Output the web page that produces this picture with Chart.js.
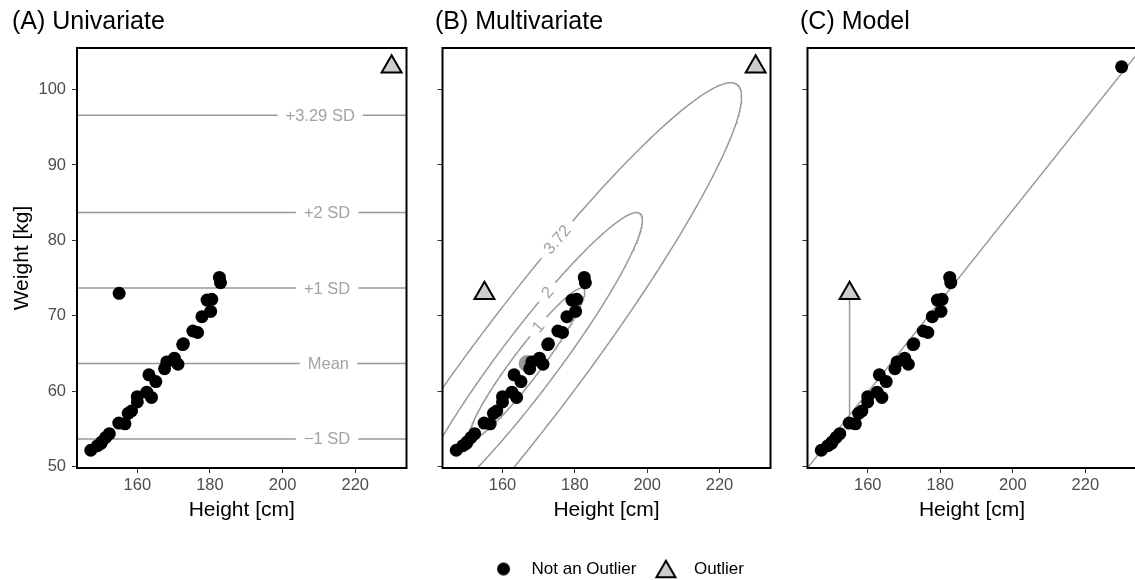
<!DOCTYPE html>
<html>
<head>
<meta charset="utf-8">
<script src="https://cdn.jsdelivr.net/npm/chart.js@4.4.1/dist/chart.umd.min.js"></script>
<style>
  html, body { margin: 0; padding: 0; background: #ffffff; overflow: hidden; }
  #wrap { position: relative; width: 1135px; height: 580px; overflow: hidden; background: #fff; }
  .panel { position: absolute; }
  canvas { display: block; }
</style>
</head>
<body>
<div id="wrap">
  <div class="panel" style="left:0px;top:0px;"><canvas id="cA" width="420" height="530"></canvas></div>
  <div class="panel" style="left:429px;top:0px;"><canvas id="cB" width="355" height="530"></canvas></div>
  <div class="panel" style="left:794px;top:0px;"><canvas id="cC" width="356" height="530"></canvas></div>
  <div class="panel" style="left:314px;top:540px;"><canvas id="cL" width="600" height="80"></canvas></div>
</div>
<script>
// ---------------- data ----------------
const heightCm = [147.2, 149.0, 150.0, 150.2, 151.3, 152.3, 154.9, 156.6, 157.5, 158.4,
                  160.0, 160.0, 162.6, 163.9, 163.2, 165.1, 167.5, 168.1, 170.2, 171.2,
                  172.7, 172.5, 175.3, 176.6, 177.8, 179.2, 180.5, 180.2, 182.6, 182.9];
const weightKg = [52.2, 52.8, 53.1, 53.3, 53.9, 54.4, 55.8, 55.7, 57.1, 57.4,
                  59.3, 58.6, 59.9, 59.2, 62.2, 61.3, 63.0, 63.9, 64.4, 63.6,
                  66.3, 66.2, 68.0, 67.8, 69.9, 72.1, 72.2, 70.6, 75.1, 74.4];
const outlierHeightCm = [155.0, 230.0];
const outlierWeightKg = [73.0, 103.0];
const univariateOutlierFlag = [false, true];   // panel A
const multivariateOutlierFlag = [true, true];  // panel B
const modelOutlierFlag = [true, false];        // panel C

const xTicks = [160, 180, 200, 220];
const yTicks = [50, 60, 70, 80, 90, 100];
const xLimits = [143.4, 234.1];
const yLimits = [49.85, 105.5];

const weightMean = 63.7;
const weightSD = 10.0;
const sdSteps = [-1, 0, 1, 2, 3.29];
const sdLabels = ['\u22121 SD', 'Mean', '+1 SD', '+2 SD', '+3.29 SD'];
const sdLabelFrac = [0.759, 0.763, 0.759, 0.759, 0.738];

// multivariate centre and covariance (height, weight)
const contourCentre = [166.8, 63.7];
const contourCovHH = 254.0;
const contourCovHW = 151.4;
const contourCovWW = 100.0;
const contourLevels = [1, 2, 3.72];
const contourLabels = ['1', '2', '3.72'];
const contourLabelAt = [[169.6, 68.7], [172.1, 73.1], [175.7, 80.0]];

const fitIntercept = -36.7;
const fitSlope = 0.6036;

const panelTitles = ['(A) Univariate', '(B) Multivariate', '(C) Model'];
const legendLabels = ['Not an Outlier', 'Outlier'];

// ---------------- style ----------------
const FONT = '"Liberation Sans", Arial, Helvetica, sans-serif';
const LINE_GREY = '#999999';
const LABEL_GREY = '#A3A3A3';
const TRI_FILL = '#CCCCCC';
Chart.defaults.font.family = FONT;

// ---------------- helpers ----------------
const toPts = (xs, ys) => xs.map((x, i) => ({ x: x, y: ys[i] }));
const basePts = toPts(heightCm, weightKg);
const outPts = toPts(outlierHeightCm, outlierWeightKg);

function blackSet(extra) {
  return {
    label: 'Not an Outlier', data: basePts.concat(extra), order: 0,
    pointRadius: 6.5, pointHoverRadius: 6.5, pointBackgroundColor: '#000', pointBorderColor: '#000',
    pointBorderWidth: 0, showLine: false
  };
}
function triSet(pts) {
  return {
    label: 'Outlier', data: pts, order: 0,
    pointStyle: 'triangle', pointRadius: 11.5, pointHoverRadius: 11.5,
    pointBackgroundColor: TRI_FILL, pointBorderColor: '#000', pointBorderWidth: 2, showLine: false
  };
}
function lineSet(pts, extra) {
  return Object.assign({
    data: pts, showLine: true, pointRadius: 0, pointHoverRadius: 0, borderColor: LINE_GREY,
    borderWidth: 1.5, fill: false, tension: 0, order: 3, clip: 0
  }, extra || {});
}

function makeScales(showYLabels, yWidth) {
  return {
    x: {
      type: 'linear', min: xLimits[0], max: xLimits[1],
      afterBuildTicks: s => { s.ticks = xTicks.map(v => ({ value: v })); },
      afterFit: s => { s.height = 62; },
      grid: { display: true, drawOnChartArea: false, drawTicks: true, tickLength: 5, color: '#333333', lineWidth: 1 },
      border: { display: false },
      ticks: { color: '#4D4D4D', font: { family: FONT, size: 16.5 }, padding: 3, maxRotation: 0, callback: v => String(v) },
      title: { display: true, text: 'Height [cm]', color: '#000', font: { family: FONT, size: 21, lineHeight: 1 }, padding: { top: 0, bottom: 9.5 } }
    },
    y: {
      type: 'linear', min: yLimits[0], max: yLimits[1],
      afterBuildTicks: s => { s.ticks = yTicks.map(v => ({ value: v })); },
      afterFit: s => { s.width = yWidth; },
      grid: { display: true, drawOnChartArea: false, drawTicks: true, tickLength: 5, color: '#333333', lineWidth: 1 },
      border: { display: false },
      ticks: { display: showYLabels, color: '#4D4D4D', font: { family: FONT, size: 16.5 }, padding: 6, callback: v => String(v) },
      title: { display: showYLabels, text: 'Weight [kg]', color: '#000', font: { family: FONT, size: 21, lineHeight: 1 }, padding: { top: 0, bottom: 0 } }
    }
  };
}

const framePlugin = {
  id: 'frameAndLabels',
  afterDatasetDraw(chart, args) {
    const ds = chart.data.datasets[args.index];
    if (!ds.lineLabel) return;
    const ctx = chart.ctx, ca = chart.chartArea;
    ctx.save();
    ctx.font = '16.5px ' + FONT;
    ctx.textAlign = 'center';
    ctx.textBaseline = 'middle';
    const tw = ctx.measureText(ds.lineLabel).width;
    let px, py, ang = 0;
    if (ds.labelFrac != null) {
      px = ca.left + ds.labelFrac * ca.width;
      py = chart.scales.y.getPixelForValue(ds.data[0].y);
    } else {
      const tx = chart.scales.x.getPixelForValue(ds.labelAt[0]);
      const ty = chart.scales.y.getPixelForValue(ds.labelAt[1]);
      const el = args.meta.data;
      let best = 0, bd = Infinity;
      el.forEach((p, i) => { const d = (p.x - tx) ** 2 + (p.y - ty) ** 2; if (d < bd) { bd = d; best = i; } });
      const a = el[Math.max(best - 2, 0)], b = el[Math.min(best + 2, el.length - 1)];
      px = el[best].x; py = el[best].y;
      ang = Math.atan2(b.y - a.y, b.x - a.x);
      if (ang > Math.PI / 2) ang -= Math.PI;
      if (ang < -Math.PI / 2) ang += Math.PI;
    }
    ctx.translate(px, py);
    ctx.rotate(ang);
    ctx.fillStyle = '#ffffff';
    ctx.fillRect(-tw / 2 - 8, -5, tw + 16, 10);
    ctx.fillStyle = LABEL_GREY;
    ctx.fillText(ds.lineLabel, 0, 1);
    ctx.restore();
  },
  afterDatasetsDraw(chart) {
    const ca = chart.chartArea, ctx = chart.ctx;
    ctx.save();
    ctx.strokeStyle = '#000';
    ctx.lineWidth = 2;
    ctx.strokeRect(ca.left, ca.top, ca.right - ca.left, ca.bottom - ca.top);
    ctx.restore();
  }
};

function makeChart(id, title, datasets, showYLabels, yWidth, padLeft) {
  return new Chart(document.getElementById(id), {
    type: 'scatter',
    data: { datasets: datasets },
    options: {
      responsive: false, animation: false, events: [],
      layout: { padding: { left: padLeft, right: 7, top: 0, bottom: 0 } },
      scales: makeScales(showYLabels, yWidth),
      plugins: {
        legend: { display: false },
        tooltip: { enabled: false },
        title: {
          display: true, text: title, align: 'start', color: '#000',
          font: { family: FONT, size: 25, weight: 'normal', lineHeight: 1.2 },
          padding: { top: 7, bottom: 11 }
        }
      }
    },
    plugins: [framePlugin]
  });
}

// ---------------- Panel A: univariate ----------------
const dsA = [];
sdSteps.forEach((k, i) => {
  const v = weightMean + k * weightSD;
  dsA.push(lineSet([{ x: xLimits[0], y: v }, { x: xLimits[1], y: v }], { lineLabel: sdLabels[i], labelFrac: sdLabelFrac[i] }));
});
dsA.push(blackSet(outPts.filter((p, i) => !univariateOutlierFlag[i])));
dsA.push(triSet(outPts.filter((p, i) => univariateOutlierFlag[i])));
makeChart('cA', panelTitles[0], dsA, true, 65, 12);

// ---------------- Panel B: multivariate ----------------
const mx = contourCentre[0], my = contourCentre[1];
const l11 = Math.sqrt(contourCovHH), l21 = contourCovHW / l11, l22 = Math.sqrt(contourCovWW - l21 * l21);
const dsB = [];
contourLevels.forEach((d, i) => {
  const pts = [];
  for (let k = 0; k <= 360; k++) {
    const t = k * Math.PI / 180;
    const u = Math.cos(t), w = Math.sin(t);
    pts.push({ x: mx + d * l11 * u, y: my + d * (l21 * u + l22 * w) });
  }
  dsB.push(lineSet(pts, { lineLabel: contourLabels[i], labelAt: contourLabelAt[i] }));
});
dsB.push({
  label: 'centre', data: [{ x: mx, y: my }], order: 1, pointRadius: 8.5, pointHoverRadius: 8.5,
  pointBackgroundColor: '#9A9A9A', pointBorderWidth: 0, showLine: false
});
dsB.push(blackSet(outPts.filter((p, i) => !multivariateOutlierFlag[i])));
dsB.push(triSet(outPts.filter((p, i) => multivariateOutlierFlag[i])));
makeChart('cB', panelTitles[1], dsB, false, 7, 6);

// ---------------- Panel C: model ----------------
const dsC = [];
dsC.push(lineSet(xLimits.map(x => ({ x: x, y: fitIntercept + fitSlope * x }))));
outPts.forEach((p, i) => {
  if (modelOutlierFlag[i]) dsC.push(lineSet([{ x: p.x, y: p.y }, { x: p.x, y: fitIntercept + fitSlope * p.x }]));
});
dsC.push(blackSet(outPts.filter((p, i) => !modelOutlierFlag[i])));
dsC.push(triSet(outPts.filter((p, i) => modelOutlierFlag[i])));
makeChart('cC', panelTitles[2], dsC, false, 7, 6);

// ---------------- Legend ----------------
function iconDot() {
  const c = document.createElement('canvas'); c.width = 15; c.height = 15;
  const g = c.getContext('2d'); g.fillStyle = '#000';
  g.beginPath(); g.arc(7.5, 7.5, 6.5, 0, 2 * Math.PI); g.fill();
  return c;
}
function iconTri() {
  const c = document.createElement('canvas'); c.width = 26; c.height = 24;
  const g = c.getContext('2d'); const r = 11, cx = 13, cy = 14.75;
  g.beginPath();
  for (let k = 0; k < 3; k++) {
    const a = k * 2 * Math.PI / 3;
    const x = cx + Math.sin(a) * r, y = cy - Math.cos(a) * r;
    if (k === 0) g.moveTo(x, y); else g.lineTo(x, y);
  }
  g.closePath(); g.fillStyle = TRI_FILL; g.fill(); g.lineWidth = 2; g.strokeStyle = '#000'; g.stroke();
  return c;
}
const legendIcons = [iconDot(), iconTri()];
new Chart(document.getElementById('cL'), {
  type: 'scatter',
  data: { datasets: [{ label: legendLabels[0], data: [] }, { label: legendLabels[1], data: [] }] },
  options: {
    responsive: false, animation: false, events: [],
    layout: { padding: { top: 10.5, left: 0, right: 0, bottom: 0 } },
    scales: { x: { display: false }, y: { display: false } },
    plugins: {
      tooltip: { enabled: false },
      title: { display: false },
      legend: {
        display: true, position: 'top', align: 'center',
        labels: {
          usePointStyle: true, pointStyleWidth: 39, padding: 10, color: '#000',
          font: { family: FONT, size: 17 },
          generateLabels: () => legendLabels.map((t, i) => ({
            text: t, pointStyle: legendIcons[i], fillStyle: '#000', strokeStyle: '#000',
            lineWidth: 0, hidden: false, datasetIndex: i, fontColor: '#000'
          }))
        }
      }
    }
  }
});
</script>
</body>
</html>
